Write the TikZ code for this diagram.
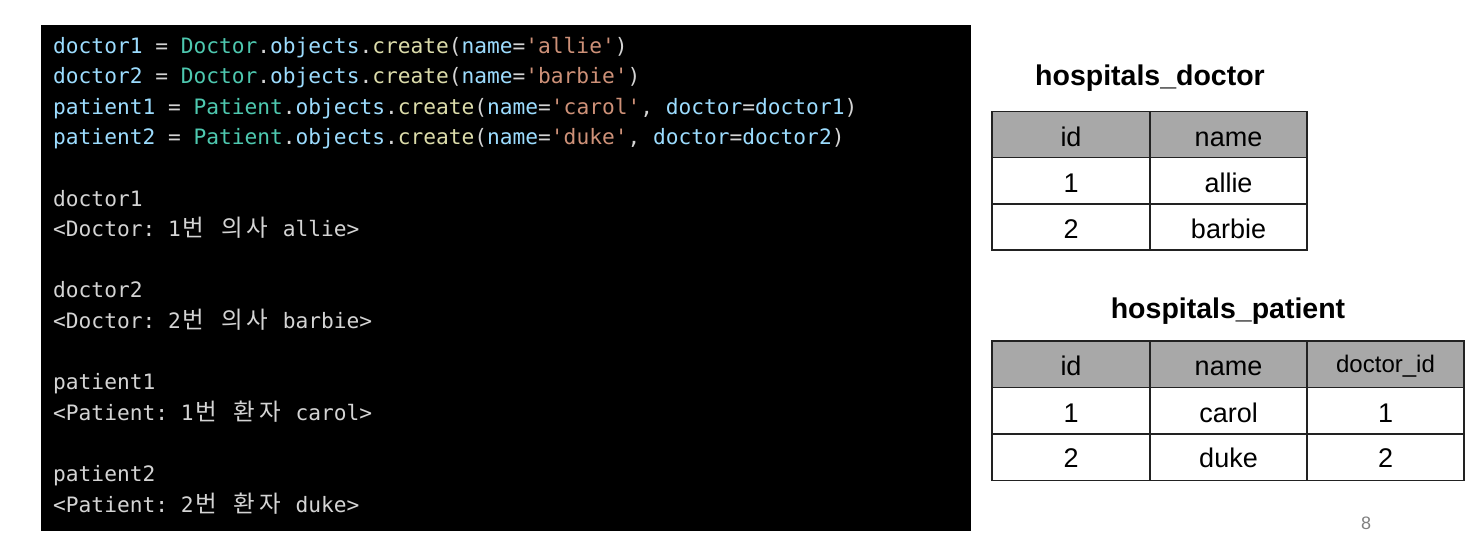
\documentclass[tikz,border=0pt]{standalone}
\usepackage{fontspec}
\setmainfont{Liberation Sans}
\setmonofont{DejaVu Sans Mono}
\newfontfamily\krfont{Noto Sans CJK KR}
\definecolor{cvar}{HTML}{9CDCFE}
\definecolor{ccls}{HTML}{4EC9B0}
\definecolor{cfn}{HTML}{DCDCAA}
\definecolor{cstr}{HTML}{CE9178}
\definecolor{ctxt}{HTML}{D4D4D4}
\definecolor{hdrfill}{HTML}{A8A8A8}
\definecolor{rule}{HTML}{222222}
\newcommand\ko[1]{\makebox[25.5pt]{\krfont\fontsize{23.5}{23.5}\selectfont #1}}
\newcommand\V[1]{\textcolor{cvar}{#1}}
\newcommand\C[1]{\textcolor{ccls}{#1}}
\newcommand\F[1]{\textcolor{cfn}{#1}}
\newcommand\St[1]{\textcolor{cstr}{#1}}
\tikzset{
  codeline/.style={anchor=base west, inner sep=0pt, text=ctxt,
    font=\ttfamily\fontsize{21.2}{21.2}\selectfont},
  cell/.style={anchor=base, inner sep=0pt, text=black,
    font=\fontsize{27}{27}\selectfont},
  smallcell/.style={anchor=base, inner sep=0pt, text=black,
    font=\fontsize{24}{24}\selectfont},
  tabtitle/.style={anchor=base, inner sep=0pt, text=black,
    font=\bfseries\fontsize{28.5}{28.5}\selectfont},
  grid/.style={draw=rule, line width=1.8pt},
}
\begin{document}
\begin{tikzpicture}[x=1pt,y=-1pt]
\useasboundingbox (0,0) rectangle (1475,549);
\fill[white] (0,0) rectangle (1475,549);
% code panel
\fill[black] (41,25) rectangle (971,531);
\node[codeline] (l1) at (53,53) {\V{doctor1} = \C{Doctor}.\V{objects}.\F{create}(\V{name}=\St{'allie'})};
\node[codeline] (l2) at (53,83.6) {\V{doctor2} = \C{Doctor}.\V{objects}.\F{create}(\V{name}=\St{'barbie'})};
\node[codeline] (l3) at (53,114.2) {\V{patient1} = \C{Patient}.\V{objects}.\F{create}(\V{name}=\St{'carol'}, \V{doctor}=\V{doctor1})};
\node[codeline] (l4) at (53,144.2) {\V{patient2} = \C{Patient}.\V{objects}.\F{create}(\V{name}=\St{'duke'}, \V{doctor}=\V{doctor2})};
\node[codeline] (l5) at (53,206) {doctor1};
\node[codeline] (l6) at (53,236.6) {<Doctor: 1\ko{번} \ko{의}\ko{사} allie>};
\node[codeline] (l7) at (53,297.8) {doctor2};
\node[codeline] (l8) at (53,328.4) {<Doctor: 2\ko{번} \ko{의}\ko{사} barbie>};
\node[codeline] (l9) at (53,389.6) {patient1};
\node[codeline] (l10) at (53,420.2) {<Patient: 1\ko{번} \ko{환}\ko{자} carol>};
\node[codeline] (l11) at (53,481.4) {patient2};
\node[codeline] (l12) at (53,512) {<Patient: 2\ko{번} \ko{환}\ko{자} duke>};
% hospitals_doctor table
\node[tabtitle] (t1) at (1150,85) {hospitals\_doctor};
\fill[hdrfill] (992,111.5) rectangle (1307,157.5);
\draw[grid] (992,111.5) rectangle (1307,250);
\draw[grid] (992,157.5) -- (1307,157.5);
\draw[grid] (992,204) -- (1307,204);
\draw[grid] (1150,111.5) -- (1150,250);
\node[cell] (d11) at (1071,146) {id};
\node[cell] (d12) at (1228.5,146) {name};
\node[cell] (d21) at (1071,192) {1};
\node[cell] (d22) at (1228.5,192) {allie};
\node[cell] (d31) at (1071,238) {2};
\node[cell] (d32) at (1228.5,238) {barbie};
% hospitals_patient table
\node[tabtitle] (t2) at (1228,318.5) {hospitals\_patient};
\fill[hdrfill] (992,341) rectangle (1464,387.5);
\draw[grid] (992,341) rectangle (1464,480.5);
\draw[grid] (992,387.5) -- (1464,387.5);
\draw[grid] (992,434) -- (1464,434);
\draw[grid] (1150,341) -- (1150,480.5);
\draw[grid] (1307,341) -- (1307,480.5);
\node[cell] (p11) at (1071,375.5) {id};
\node[cell] (p12) at (1228.5,375.5) {name};
\node[smallcell] (p13) at (1385.5,372) {doctor\_id};
\node[cell] (p21) at (1071,422) {1};
\node[cell] (p22) at (1228.5,422) {carol};
\node[cell] (p23) at (1385.5,422) {1};
\node[cell] (p31) at (1071,467.5) {2};
\node[cell] (p32) at (1228.5,467.5) {duke};
\node[cell] (p33) at (1385.5,467.5) {2};
% page number
\node[anchor=base, inner sep=0pt, text=gray, font=\fontsize{18}{18}\selectfont] (pg) at (1366,529.5) {8};
\end{tikzpicture}
\end{document}
